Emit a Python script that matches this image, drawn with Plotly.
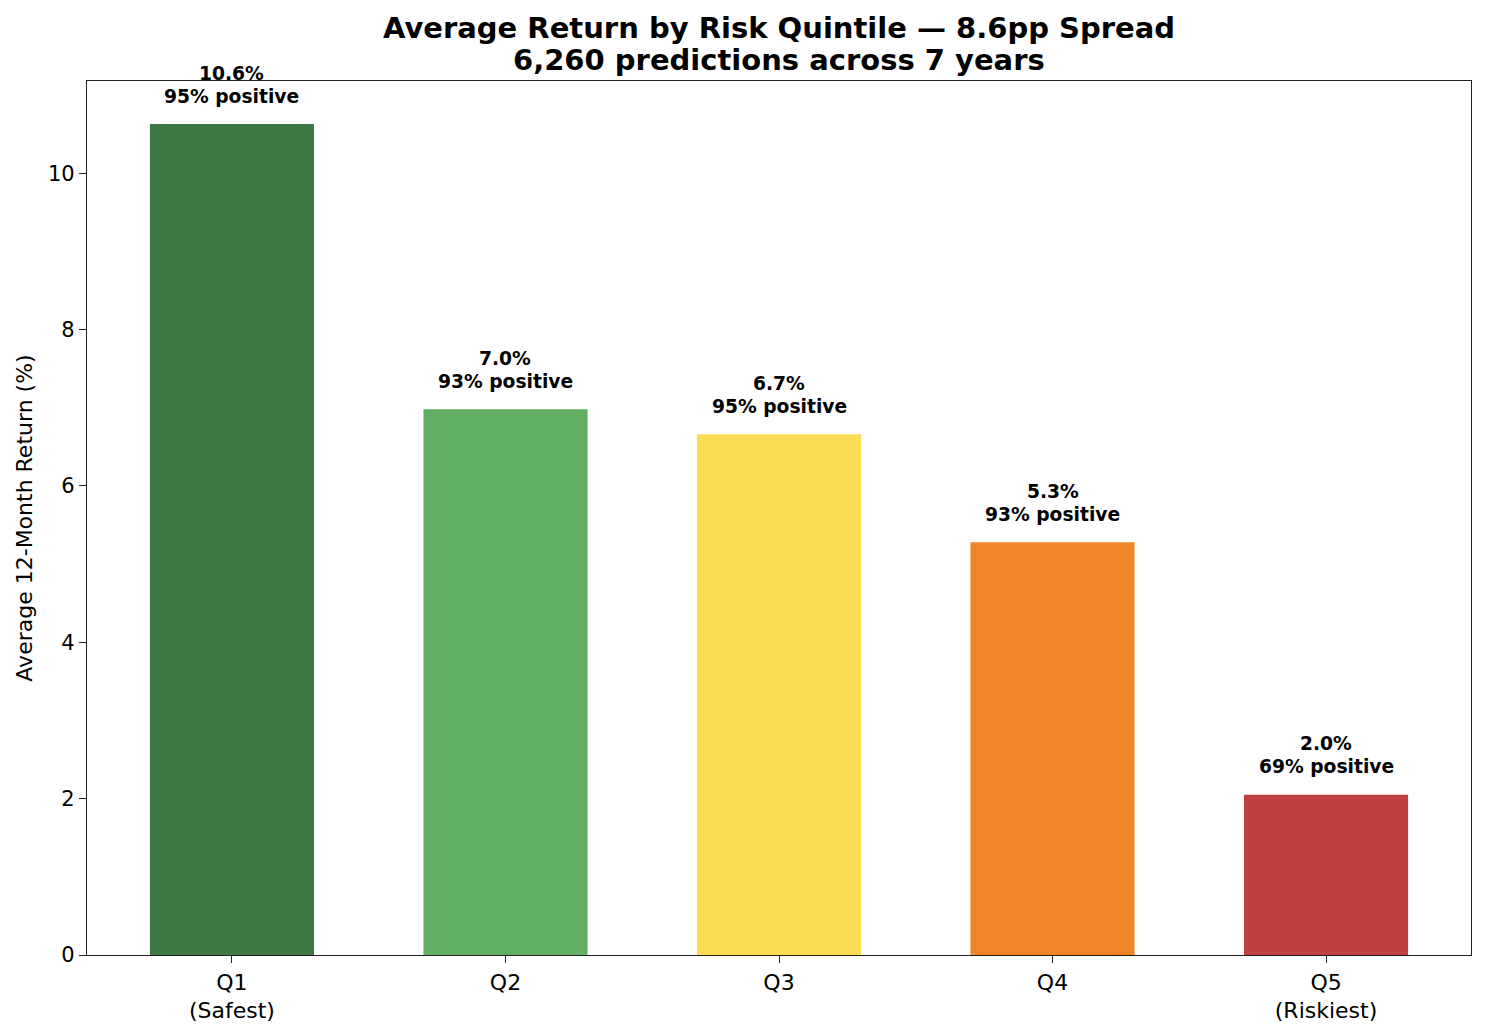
import plotly.graph_objects as go

categories = ["Q1<br>(Safest)", "Q2", "Q3", "Q4", "Q5<br>(Riskiest)"]
avg_return = [10.63, 6.98, 6.66, 5.28, 2.05]
value_labels = ["10.6%", "7.0%", "6.7%", "5.3%", "2.0%"]
pct_positive = ["95% positive", "93% positive", "95% positive", "93% positive", "69% positive"]
colors = ["#3d7842", "#62ae62", "#fcdc55", "#f08428", "#c03f41"]
title_line1 = "Average Return by Risk Quintile — 8.6pp Spread"
title_line2 = "6,260 predictions across 7 years"

FONT = "DejaVu Sans"

fig = go.Figure()
fig.add_trace(go.Bar(
    x=list(range(len(categories))),
    y=avg_return,
    width=0.6,
    marker=dict(color=colors, line=dict(width=0)),
    hoverinfo="skip",
))

for i, (v, vl, pp) in enumerate(zip(avg_return, value_labels, pct_positive)):
    fig.add_annotation(x=i, y=v, text=f"<b>{vl}</b>", showarrow=False,
                       yanchor="middle", yshift=51, font=dict(family=FONT, size=18.7, color="black"))
    fig.add_annotation(x=i, y=v, text=f"<b>{pp}</b>", showarrow=False,
                       yanchor="middle", yshift=28, font=dict(family=FONT, size=18.7, color="black"))

fig.add_annotation(x=0.5, xref="paper", y=1.0242, yref="paper", text=f"<b>{title_line2}</b>",
                   showarrow=False, xanchor="center", yanchor="middle",
                   font=dict(family=FONT, size=29, color="black"))

fig.update_layout(
    width=1477, height=1026,
    margin=dict(l=79, r=14, t=73, b=79),
    plot_bgcolor="white", paper_bgcolor="white",
    showlegend=False,
    font=dict(family=FONT, size=22, color="black"),
    title=dict(
        text=f"<b>{title_line1}</b>",
        x=0.5, xref="paper", xanchor="center", y=0.9805, yanchor="middle",
        font=dict(family=FONT, size=29, color="black"),
    ),
    xaxis=dict(
        range=[-0.53, 4.53],
        tickmode="array", tickvals=list(range(len(categories))), ticktext=categories,
        showgrid=False, zeroline=False,
        showline=True, linecolor="#222", linewidth=1.3, mirror=True,
        ticks="outside", ticklen=7, tickcolor="#222",
        tickfont=dict(family=FONT, size=22),
    ),
    yaxis=dict(
        range=[0, 11.18],
        tickvals=[0, 2, 4, 6, 8, 10],
        showgrid=False, zeroline=False,
        showline=True, linecolor="#222", linewidth=1.3, mirror=True,
        ticks="outside", ticklen=7, tickcolor="#222",
        tickfont=dict(family=FONT, size=21),
        title=dict(text="Average 12-Month Return (%)", standoff=9,
                   font=dict(family=FONT, size=22)),
    ),
)

fig.write_html("out.html")
